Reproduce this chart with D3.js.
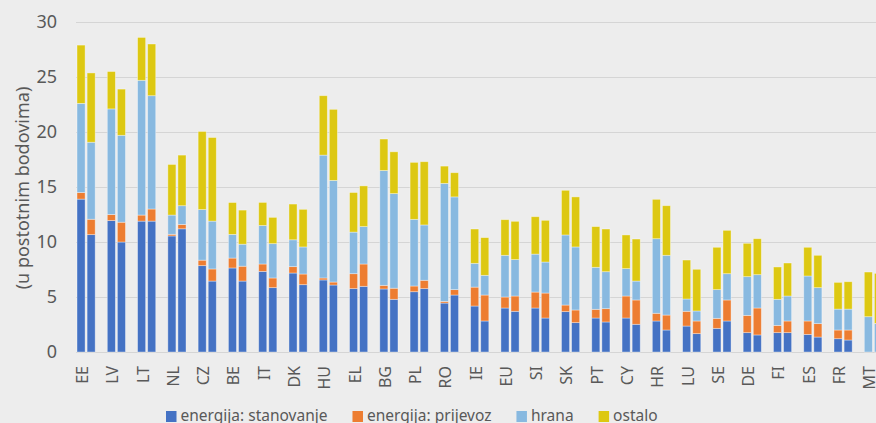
<!DOCTYPE html>
<html>
<head>
<meta charset="utf-8">
<script src="https://cdn.jsdelivr.net/npm/d3@7"></script>
<style>
  html, body { margin: 0; padding: 0; background: #ededed; overflow: hidden; }
  text { font-family: "Noto Sans", sans-serif; fill: #595959; }
</style>
</head>
<body>
<div id="chart"></div>
<script>
const width = 876;
const height = 423;

// categories
const countries = ["EE", "LV", "LT", "NL", "CZ", "BE", "IT", "DK", "HU", "EL", "BG", "PL", "RO",
  "IE", "EU", "SI", "SK", "PT", "CY", "HR", "LU", "SE", "DE", "FI", "ES", "FR", "MT"];

// first bar of each pair
const stanovanjeA = [13.9, 11.95, 11.9, 10.55, 7.85, 7.64, 7.33, 7.18, 6.55, 5.76, 5.73, 5.48, 4.45,
  4.18, 4.0, 4.0, 3.67, 3.09, 3.09, 2.82, 2.36, 2.15, 1.76, 1.76, 1.6, 1.21, 0];
const prijevozA = [0.6, 0.55, 0.55, 0.15, 0.5, 0.9, 0.67, 0.58, 0.18, 1.36, 0.33, 0.52, 0.15,
  1.72, 1.0, 1.45, 0.6, 0.79, 2.0, 0.7, 1.34, 0.91, 1.57, 0.66, 1.22, 0.79, 0];
const hranaA = [8.1, 9.6, 12.25, 1.75, 4.6, 2.15, 3.5, 2.44, 11.17, 3.78, 10.44, 6.06, 10.73,
  2.16, 3.79, 3.45, 6.37, 3.82, 2.49, 6.78, 1.12, 2.61, 3.52, 2.37, 4.09, 1.9, 3.21];
const ostaloA = [5.3, 3.4, 3.9, 4.6, 7.1, 2.9, 2.1, 3.25, 5.4, 3.6, 2.86, 5.18, 1.57,
  3.12, 3.24, 3.4, 4.06, 3.7, 3.06, 3.58, 3.54, 3.85, 3.03, 2.94, 2.61, 2.43, 4.06];

// second bar of each pair
const stanovanjeB = [10.67, 10.0, 11.9, 11.2, 6.45, 6.45, 5.85, 6.12, 6.09, 5.97, 4.79, 5.76, 5.18,
  2.82, 3.7, 3.09, 2.67, 2.73, 2.52, 2.0, 1.67, 2.82, 1.55, 1.76, 1.36, 1.09, 0];
const prijevozB = [1.4, 1.8, 1.1, 0.4, 1.1, 1.35, 0.88, 0.97, 0.27, 2.03, 1.01, 0.76, 0.49,
  2.36, 1.39, 2.27, 1.15, 1.21, 2.21, 1.36, 1.15, 1.91, 2.45, 1.06, 1.22, 0.91, 0];
const hranaB = [7.0, 7.9, 10.3, 1.7, 4.35, 2.0, 3.12, 2.46, 9.24, 3.4, 8.6, 5.03, 8.43,
  1.79, 3.31, 2.82, 5.73, 3.36, 1.72, 5.43, 0.91, 2.39, 3.03, 2.27, 3.27, 1.9, 2.6];
const ostaloB = [6.3, 4.2, 4.7, 4.6, 7.6, 3.1, 2.39, 3.42, 6.46, 3.7, 3.8, 5.75, 2.2,
  3.43, 3.48, 3.79, 4.55, 3.88, 3.82, 4.51, 3.79, 3.94, 3.27, 3.0, 2.94, 2.49, 4.55];

const keys = ["stanovanje", "prijevoz", "hrana", "ostalo"];
const legendLabels = ["energija: stanovanje", "energija: prijevoz", "hrana", "ostalo"];
const colors = ["#4472c4", "#ed7d31", "#88b9e0", "#ddc812"];
const yTicks = [0, 5, 10, 15, 20, 25, 30];

const rowsA = countries.map((c, i) => ({country: c, bar: "A",
  stanovanje: stanovanjeA[i], prijevoz: prijevozA[i], hrana: hranaA[i], ostalo: ostaloA[i]}));
const rowsB = countries.map((c, i) => ({country: c, bar: "B",
  stanovanje: stanovanjeB[i], prijevoz: prijevozB[i], hrana: hranaB[i], ostalo: ostaloB[i]}));

const svg = d3.select("#chart")
    .append("svg")
    .attr("width", width)
    .attr("height", height);

const x0 = d3.scaleBand()
    .domain(countries)
    .range([76, 76 + countries.length * 30.28]);

const x1 = d3.scaleBand()
    .domain(["A", "B"])
    .range([0, x0.bandwidth() * 2 / 3])
    .paddingInner(0.2)
    .paddingOuter(0.1);

const y = d3.scaleLinear()
    .domain([0, 30])
    .range([352, 22]);

// gridlines + tick labels
const yAxis = svg.append("g")
    .attr("transform", "translate(76,0)")
    .call(d3.axisLeft(y).tickValues(yTicks).tickSize(-(width - 76)).tickPadding(19));
yAxis.select(".domain").remove();
yAxis.selectAll(".tick line").attr("stroke", "#d5d5d5").attr("stroke-width", 1);
yAxis.selectAll(".tick text")
    .style("font-size", "18px")
    .style("font-family", "'Noto Sans', sans-serif")
    .attr("fill", "#595959");

svg.append("text")
    .attr("transform", "translate(22,188) rotate(-90)")
    .attr("text-anchor", "middle")
    .attr("dominant-baseline", "central")
    .style("font-size", "18px")
    .text("(u postotnim bodovima)");

const stack = d3.stack().keys(keys);

[rowsA, rowsB].forEach(rows => {
  const series = stack(rows);
  svg.append("g")
    .selectAll("g")
    .data(series)
    .enter()
    .append("g")
    .attr("fill", (d, i) => colors[i])
    .selectAll("rect")
    .data(d => d)
    .enter()
    .append("rect")
    .attr("x", d => x0(d.data.country) + x1(d.data.bar))
    .attr("width", x1.bandwidth())
    .attr("y", d => y(d[1]))
    .attr("height", d => y(d[0]) - y(d[1]))
    .attr("stroke", "rgba(255,255,255,0.45)")
    .attr("stroke-width", 0.8);
});

// category labels
svg.append("g")
    .selectAll("text")
    .data(countries)
    .enter()
    .append("text")
    .attr("transform", d => `translate(${x0(d) + 6},366) rotate(-90)`)
    .attr("text-anchor", "end")
    .attr("dominant-baseline", "central")
    .style("font-size", "16px")
    .text(d => d);

// legend
const legend = svg.append("g");
let lx = 166;
legendLabels.forEach((label, i) => {
  legend.append("rect")
    .attr("x", lx)
    .attr("y", 411)
    .attr("width", 10.5)
    .attr("height", 11)
    .attr("fill", colors[i]);
  const t = legend.append("text")
    .attr("x", lx + 14.5)
    .attr("y", 421)
    .style("font-size", "15.5px")
    .text(label);
  lx += 14.5 + t.node().getComputedTextLength() + 25;
});
</script>
</body>
</html>
